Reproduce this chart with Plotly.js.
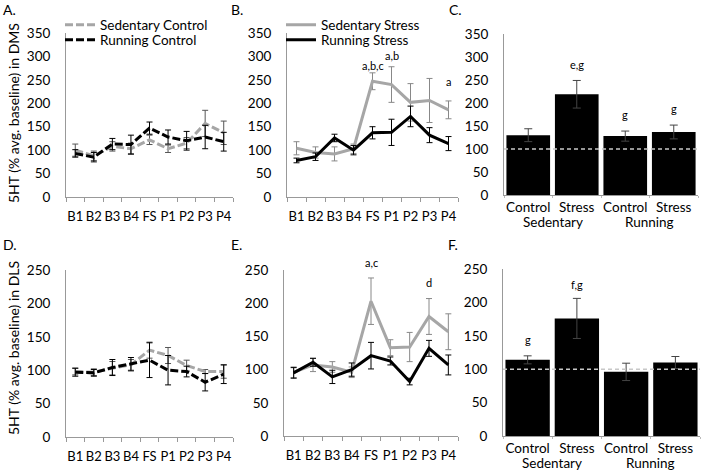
<!DOCTYPE html>
<html><head><meta charset="utf-8">
<script src="https://cdn.plot.ly/plotly-3.0.1.min.js"></script>
<style>html,body{margin:0;padding:0;background:#fff}#chart{width:703px;height:472px}</style>
</head><body><div id="chart"></div>
<script>
// ---------- data ----------
const timepoints = ['B1','B2','B3','B4','FS','P1','P2','P3','P4'];

// DMS (top row)
const sedCtrlDMS     = [100, 88, 108, 103, 122, 103, 115, 157, 137];
const sedCtrlDMSErr  = [13, 10, 10, 12, 10, 8, 12, 28, 25];
const runCtrlDMS     = [93, 85, 113, 112, 147, 128, 120, 128, 118];
const runCtrlDMSErr  = [8, 10, 12, 20, 13, 15, 20, 25, 20];

const sedStressDMS    = [104, 95, 92, 103, 247, 240, 202, 206, 186];
const sedStressDMSErr = [14, 12, 15, 10, 18, 38, 40, 47, 19];
const runStressDMS    = [78, 86, 126, 100, 137, 138, 172, 132, 114];
const runStressDMSErr = [5, 8, 8, 10, 13, 28, 22, 16, 15];

// DLS (bottom row)
const sedCtrlDLS     = [98, 97, 103, 108, 130, 122, 107, 98, 98];
const sedCtrlDLSErr  = [5, 5, 10, 8, 12, 12, 8, 3, 10];
const runCtrlDLS     = [97, 96, 104, 109, 115, 100, 98, 82, 94];
const runCtrlDLSErr  = [6, 5, 12, 10, 26, 22, 8, 13, 14];

const sedStressDLS    = [96, 107, 104, 96, 203, 133, 134, 180, 157];
const sedStressDLSErr = [8, 10, 8, 8, 35, 12, 22, 27, 27];
const runStressDLS    = [95, 111, 89, 100, 121, 113, 82, 132, 107];
const runStressDLSErr = [8, 6, 10, 10, 20, 6, 5, 12, 15];

// Bar summaries
const barGroup     = ['Sedentary','Sedentary','Running','Running'];
const barCondition = ['Control','Stress','Control','Stress'];
const groupNames   = ['Sedentary','Running'];
const barDMS       = [130, 219, 128, 137];
const barDMSErr    = [14, 30, 11, 15];
const barDLS       = [114, 176, 96, 110];
const barDLSErr    = [6, 30, 13, 9];

// significance labels
const sigB = {x: ['FS','P1','P4'], y: [263, 283, 229], text: ['a,b,c','a,b','a']};
const sigE = {x: ['FS','P3'], y: [248, 218], text: ['a,c','d']};
const sigC = {idx: [1,2,3], y: [265, 156, 170], text: ['e,g','g','g']};
const sigF = {idx: [0,1], y: [132, 214], text: ['g','f,g']};

// ---------- styling ----------
const W = 703, H = 472;
const FONT = 'Lato, "Open Sans", sans-serif';
const GRAY = '#A6A6A6';
const AX = '#999999';
const fx = (a,b) => [a/W, b/W];
const fy = (top,bot) => [1-bot/H, 1-top/H];
const barCats = barGroup.map((g,i) => g + ' ' + barCondition[i]);

function lineTrace(y, err, color, errColor, dash, name, xa, ya, leg, showleg) {
  return {
    type:'scatter', mode:'lines', x: timepoints, y: y, name: name,
    xaxis: xa, yaxis: ya, legend: leg, showlegend: showleg,
    line: {color: color, width: 3, dash: dash},
    error_y: {type:'data', array: err, visible:true, color: errColor, thickness: 1, width: 3},
    hoverinfo:'skip'
  };
}
const DASH = '8px,3px';

const traces = [
  lineTrace(sedCtrlDMS, sedCtrlDMSErr, GRAY, '#555', DASH, 'Sedentary Control', 'x', 'y', 'legend', true),
  lineTrace(runCtrlDMS, runCtrlDMSErr, '#000', '#000', DASH, 'Running Control', 'x', 'y', 'legend3', true),
  lineTrace(sedStressDMS, sedStressDMSErr, GRAY, '#888', 'solid', 'Sedentary Stress', 'x2', 'y2', 'legend2', true),
  lineTrace(runStressDMS, runStressDMSErr, '#000', '#000', 'solid', 'Running Stress', 'x2', 'y2', 'legend4', true),
  lineTrace(sedCtrlDLS, sedCtrlDLSErr, GRAY, '#555', DASH, 'Sedentary Control', 'x4', 'y4', 'legend', false),
  lineTrace(runCtrlDLS, runCtrlDLSErr, '#000', '#000', DASH, 'Running Control', 'x4', 'y4', 'legend3', false),
  lineTrace(sedStressDLS, sedStressDLSErr, GRAY, '#888', 'solid', 'Sedentary Stress', 'x5', 'y5', 'legend2', false),
  lineTrace(runStressDLS, runStressDLSErr, '#000', '#000', 'solid', 'Running Stress', 'x5', 'y5', 'legend4', false),
  {type:'bar', x: barCats, y: barDMS, xaxis:'x3', yaxis:'y3', showlegend:false,
   marker:{color:'#000'}, error_y:{type:'data', array: barDMSErr, color:'#444', thickness:1, width:4}, hoverinfo:'skip'},
  {type:'bar', x: barCats, y: barDLS, xaxis:'x6', yaxis:'y6', showlegend:false,
   marker:{color:'#000'}, error_y:{type:'data', array: barDLSErr, color:'#444', thickness:1, width:4}, hoverinfo:'skip'}
];

const tickFont = {family: FONT, size: 13, color: '#000'};
function catAxis(domain, anchor) {
  return {domain: domain, anchor: anchor, type:'category', range:[-0.5, 8.5], tickson:'boundaries',
    tickangle:0, ticks:'outside', ticklen:4, tickcolor: AX, showline:true, linecolor: AX, linewidth:1,
    ticklabelstandoff: 7,
    showgrid:false, zeroline:false, tickfont: tickFont, fixedrange:true};
}
function barAxis(domain, anchor) {
  return {domain: domain, anchor: anchor, type:'category', range:[-0.5, 3.5], tickson:'boundaries',
    tickmode:'array', tickvals: barCats, ticktext: barCondition,
    tickangle:0, ticks:'outside', ticklen:2, tickcolor: '#BBBBBB', showline:true, linecolor: AX, linewidth:1,
    showgrid:false, zeroline:false, tickfont: {family: FONT, size: 13.5, color:'#000'}, fixedrange:true};
}
function valAxis(domain, anchor, max) {
  return {domain: domain, anchor: anchor, range:[0, max], dtick:50, tick0:0,
    ticks:'', showline:true, linecolor: AX, linewidth:1, showgrid:false, zeroline:false,
    ticklabelstandoff: 12, tickfont: {family: FONT, size: 13.5, color:'#000'}, fixedrange:true};
}

const annotations = [];
function addSig(s, xa, ya) {
  s.text.forEach((t,i) => annotations.push({xref:xa, yref:ya, x: s.x[i], y: s.y[i], text:t,
    showarrow:false, yanchor:'bottom', font:{family:FONT, size:11, color:'#000'}}));
}
addSig(sigB, 'x2', 'y2');
addSig(sigE, 'x5', 'y5');
function addBarSig(s, xa, ya) {
  s.text.forEach((t,i) => annotations.push({xref:xa, yref:ya,
    x: barCats[s.idx[i]], y: s.y[i], text:t,
    showarrow:false, yanchor:'bottom', font:{family:FONT, size:11, color:'#000'}}));
}
addBarSig(sigC, 'x3', 'y3');
addBarSig(sigF, 'x6', 'y6');
function addGroupLabels(xa, ypx) {
  groupNames.forEach((g,i) => annotations.push({xref:xa, yref:'paper', x: 2*i + 0.5, y: 1-ypx/H,
    text:g, showarrow:false, xanchor:'center', yanchor:'middle', font:{family:FONT, size:13.5, color:'#000'}}));
}
addGroupLabels('x3', 222);
addGroupLabels('x6', 463);
function panelLetter(t, x, y) {
  annotations.push({xref:'paper', yref:'paper', x: x/W, y: 1-y/H, text:t, showarrow:false,
    xanchor:'left', yanchor:'middle', font:{family:FONT, size:14, color:'#000'}});
}
panelLetter('A.', 1, 10); panelLetter('B.', 229, 10); panelLetter('C.', 447, 10);
panelLetter('D.', 1, 245); panelLetter('E.', 229, 245); panelLetter('F.', 446, 245);
annotations.push({xref:'paper', yref:'paper', x: 13/W, y: 1-113/H, text:'5HT (% avg. baseline) in DMS',
  textangle:-90, xanchor:'center', yanchor:'middle', showarrow:false, font:{family:FONT, size:14, color:'#000'}});
annotations.push({xref:'paper', yref:'paper', x: 13/W, y: 1-348/H, text:'5HT (% avg. baseline) in DLS',
  textangle:-90, xanchor:'center', yanchor:'middle', showarrow:false, font:{family:FONT, size:14, color:'#000'}});

function leg(xpx, ypx) {
  return {x: xpx/W, y: 1-ypx/H, xanchor:'left', yanchor:'middle', bgcolor:'rgba(0,0,0,0)',
    font:{family:FONT, size:13.5, color:'#000'}, tracegroupgap:0, itemclick:false};
}

const layout = {
  width: W, height: H, margin:{l:0, r:0, t:0, b:0}, paper_bgcolor:'#fff', plot_bgcolor:'#fff',
  font:{family:FONT, size:13.5, color:'#000'},
  bargap: 0.1,
  xaxis: catAxis(fx(66,233), 'y'),   yaxis: valAxis(fy(33,197), 'x', 350),
  xaxis2: catAxis(fx(287,458), 'y2'), yaxis2: valAxis(fy(33,197), 'x2', 350),
  xaxis3: barAxis(fx(504,698), 'y3'), yaxis3: valAxis(fy(34,195), 'x3', 350),
  xaxis4: catAxis(fx(66,233), 'y4'),  yaxis4: valAxis(fy(270,437), 'x4', 250),
  xaxis5: catAxis(fx(284,458), 'y5'), yaxis5: valAxis(fy(270,436), 'x5', 250),
  xaxis6: barAxis(fx(503,700), 'y6'), yaxis6: valAxis(fy(269,436), 'x6', 250),
  legend: leg(60, 25), legend3: leg(60, 40),
  legend2: leg(281, 25), legend4: leg(281, 40),
  shapes: [
    {type:'line', xref:'x3 domain', yref:'y3', x0:0, x1:1, y0:100, y1:100, line:{color:'#C8C8C8', width:1.5, dash:'4px,3px'}},
    {type:'line', xref:'x6 domain', yref:'y6', x0:0, x1:1, y0:100, y1:100, line:{color:'#C8C8C8', width:1.5, dash:'4px,3px'}}
  ],
  annotations: annotations,
  showlegend: true
};

Plotly.newPlot('chart', traces, layout, {displayModeBar:false, staticPlot:true});
</script></body></html>
